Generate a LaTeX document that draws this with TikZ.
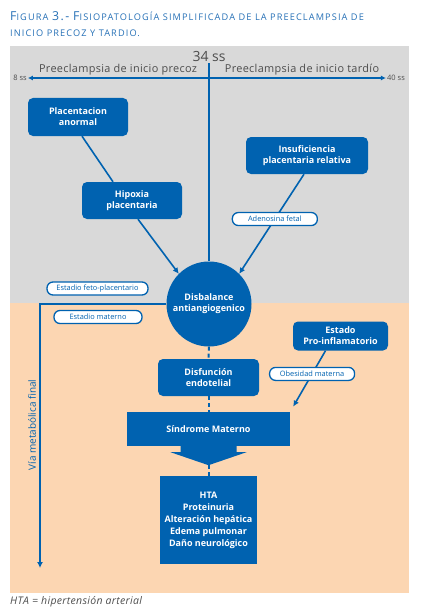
\documentclass[tikz,border=0pt]{standalone}
\usepackage{fontspec}
\setmainfont{Open Sans}
\newfontfamily\titlefont[LetterSpace=12]{Open Sans}
\newfontfamily\widefont[LetterSpace=3]{Open Sans}
\usetikzlibrary{positioning,arrows.meta}
\definecolor{boxblue}{RGB}{0,98,176}
\definecolor{titleblue}{RGB}{38,112,182}
\definecolor{bggray}{RGB}{217,217,217}
\definecolor{bgpeach}{RGB}{252,214,178}
\definecolor{txtgray}{RGB}{77,77,77}
\newcommand\capbig[1]{{\fontsize{12.3}{13}\selectfont #1}}
\newcommand\capsmall[1]{{\fontsize{9.2}{10}\selectfont #1}}
\tikzset{
  cbox/.style={fill=boxblue, rounded corners=5pt, text=white, align=center,
    font=\bfseries\fontsize{9}{10.8}\selectfont, inner sep=0pt},
  sqbox/.style={cbox, rounded corners=0pt},
  tag/.style={fill=white, draw=boxblue, line width=1.3pt, rounded corners=6pt,
    text=boxblue, font=\fontsize{7.4}{8}\selectfont, inner sep=0pt, minimum height=13pt},
  conn/.style={draw=boxblue, line width=1.6pt},
  arr/.style={conn, -{Latex[length=6pt,width=6pt]}},
  dsh/.style={draw=boxblue, line width=2pt, dash pattern=on 4pt off 3pt}
}

\begin{document}
\begin{tikzpicture}[x=1pt,y=-1pt]
\useasboundingbox (0,0) rectangle (428,615);
% Drawing backgrounds
\fill[bggray] (10,46) rectangle (409,303);
\fill[bgpeach] (10,303) rectangle (409,593);
% Title and footnote
\node[anchor=west, text=titleblue, inner sep=0pt, font=\titlefont] (title1) at (10,16)
  {\capbig{F}\capsmall{IGURA} \capbig{3.-} \capbig{F}\capsmall{ISIOPATOLOGÍA SIMPLIFICADA DE LA PREECLAMPSIA DE}};
\node[anchor=west, text=titleblue, inner sep=0pt, font=\titlefont] (title2) at (10,33)
  {\capsmall{INICIO PRECOZ Y TARDIO.}};
\node[anchor=west, text=txtgray, inner sep=0pt, font=\widefont\itshape\fontsize{10.5}{12}\selectfont] (foot) at (10,602)
  {HTA = hipertensión arterial};
% Time axis
\node[text=txtgray, font=\fontsize{14}{15}\selectfont, inner sep=1pt] (ss34) at (209,57) {34 ss};
\node[text=txtgray, font=\fontsize{7.5}{8}\selectfont, inner sep=1pt] (w8) at (20,78) {8 ss};
\node[text=txtgray, font=\fontsize{7.5}{8}\selectfont, inner sep=1pt] (w40) at (396,78) {40 ss};
\draw[conn, {Latex[length=5pt,width=5pt]}-{Latex[length=5pt,width=5pt]}] (w8) -- (w40);
\node[text=txtgray, font=\widefont\fontsize{10.9}{12}\selectfont] (precoz) at (118,70) {Preeclampsia de inicio precoz};
\node[text=txtgray, font=\widefont\fontsize{10.9}{12}\selectfont] (tardio) at (302,70) {Preeclampsia de inicio tardío};
% Boxes
\node[cbox, minimum width=100pt, minimum height=38pt] (plac) at (78,117) {Placentacion\\anormal};
\node[cbox, minimum width=100pt, minimum height=37pt] (hipox) at (132,200.5) {Hipoxia\\placentaria};
\node[cbox, minimum width=122pt, minimum height=37pt] (insuf) at (307,155.5) {Insuficiencia\\placentaria relativa};
\node[cbox, circle, minimum size=85pt] (disb) at (209,304) {Disbalance\\antiangiogenico};
\node[cbox, minimum width=95pt, minimum height=29pt] (estado) at (340.5,336) {Estado\\Pro-inflamatorio};
\node[cbox, minimum width=101pt, minimum height=37pt] (disf) at (208.5,377.5) {Disfunción\\endotelial};
\node[sqbox, minimum width=163pt, minimum height=34pt] (sind) at (208.5,429) {Síndrome Materno};
\node[sqbox, minimum width=97pt, minimum height=88pt, font=\bfseries\fontsize{9}{12}\selectfont] (hta) at (208.5,520)
  {HTA\\Proteinuria\\Alteración hepática\\Edema pulmonar\\Daño neurológico};
% Big arrow under the syndrome
\fill[boxblue] ([xshift=-28pt]sind.south) -- ++(0,6) -- ++(-10,0) -- ([yshift=-19pt]sind.south) coordinate (tip)
  -- ([xshift=38pt,yshift=-6pt]sind.south) -- ++(-10,0) -- ([xshift=28pt]sind.south) -- cycle;
% Stage tags
\node[tag, minimum width=101pt] (fetopl) at (97.5,288.5) {Estadio feto-placentario};
\node[tag, minimum width=88pt] (materno) at (98,317) {Estadio materno};
\node[text=boxblue, rotate=90, font=\fontsize{10}{12}\selectfont] (via) at (32,425) {Vía metabólica final};
\coordinate (vend) at (40,568);
% Connectors
\draw[conn] (ss34) -- (disb.north);
\draw[conn] ([xshift=4pt]plac.south) -- ([xshift=-19pt]hipox.north);
\draw[arr] ([xshift=6pt]hipox.south) -- (disb.135);
\draw[arr] ([xshift=-3pt]insuf.south) -- node[tag, minimum width=85pt, pos=.45] (adeno) {Adenosina fetal} (disb.45);
\draw[arr, shorten >=6pt] ([xshift=-15pt]estado.south) -- node[tag, minimum width=85pt, pos=.38] (obes) {Obesidad materna} (sind.north east);
\draw[arr] (disb.west) -| (vend);
\draw[dsh] (disb.south) -- (disf.north);
\draw[dsh] (disf.south) -- (sind.north);
\draw[dsh] (tip) -- (hta.north);
\end{tikzpicture}
\end{document}
